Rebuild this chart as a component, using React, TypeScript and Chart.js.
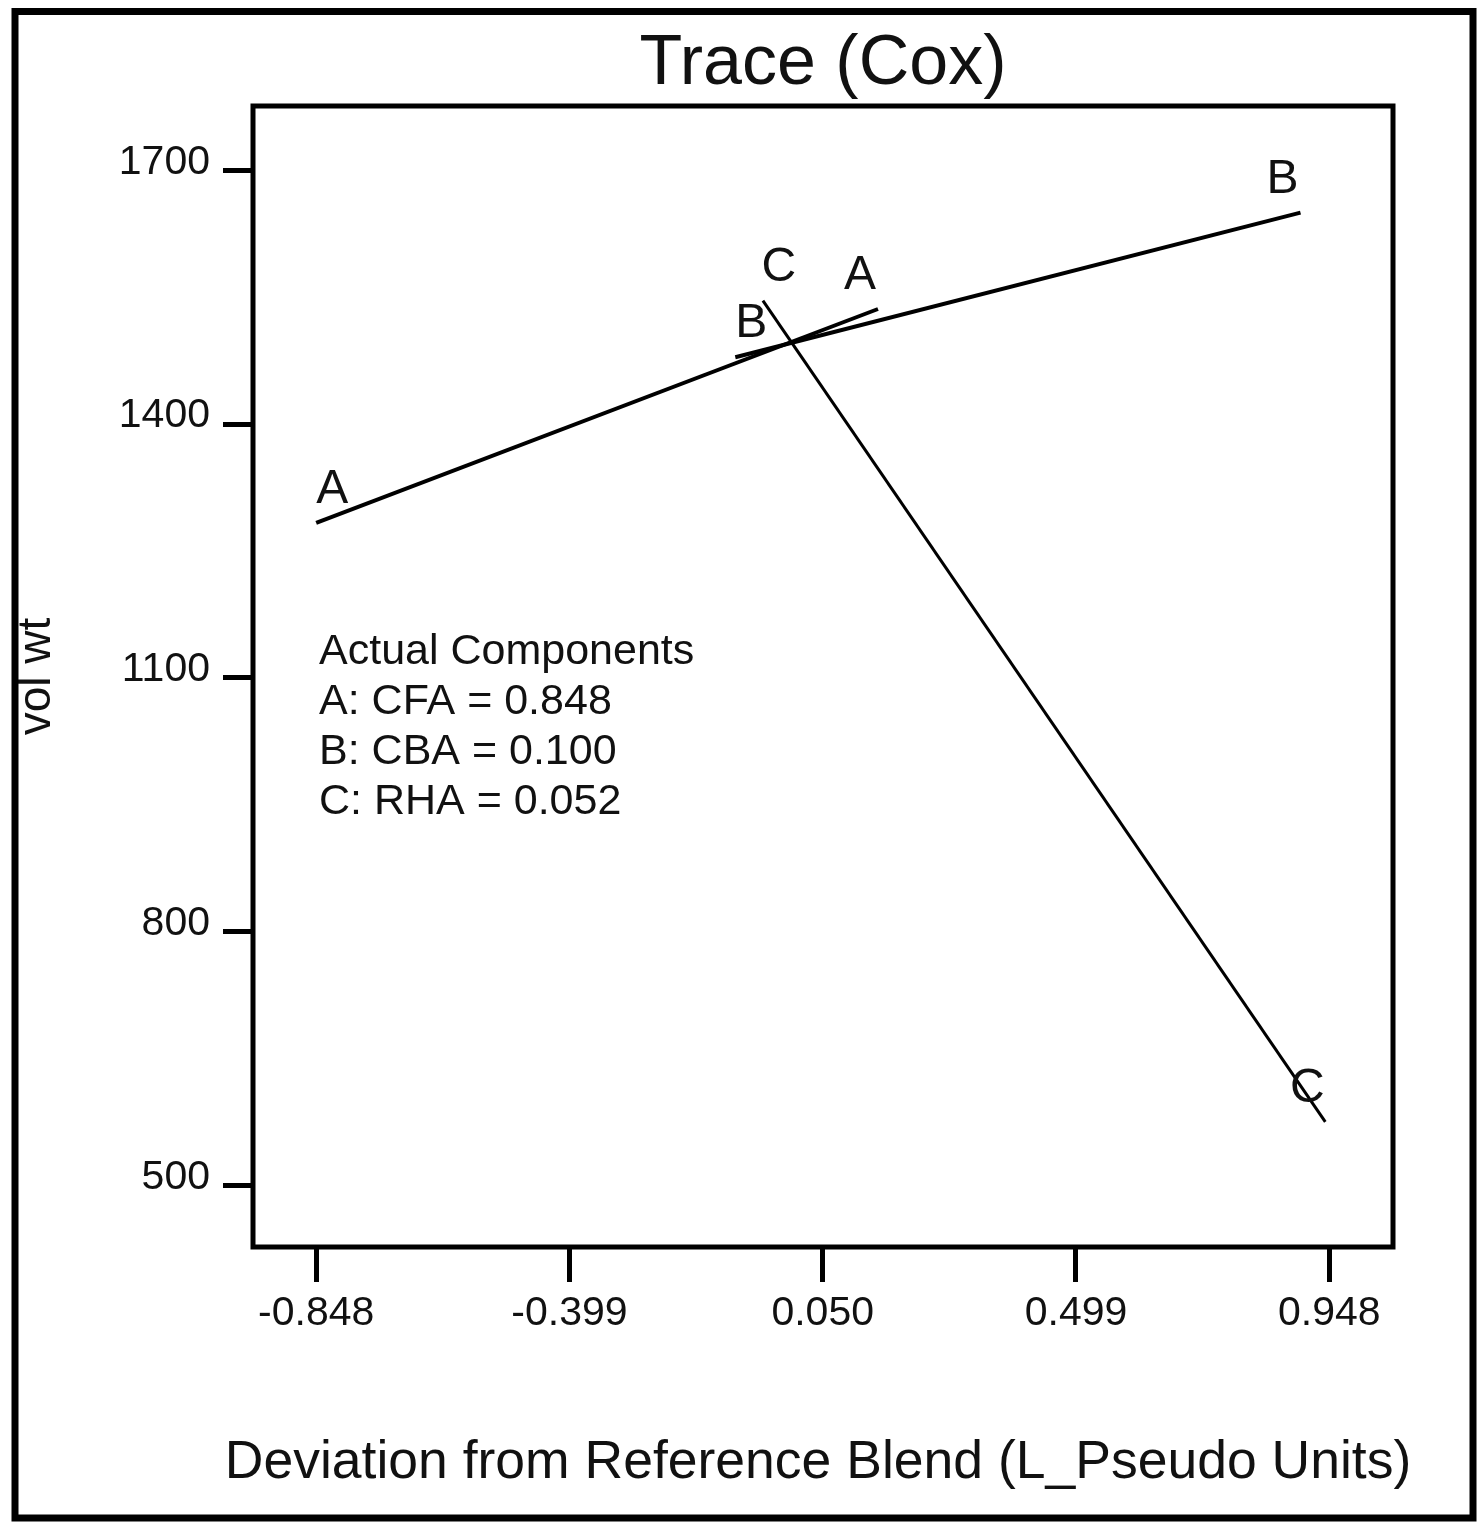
import React, { useEffect, useRef } from "react";
import { Chart, registerables } from "chart.js";

Chart.register(...registerables);

const TITLE = "Trace (Cox)";
const X_TITLE = "Deviation from Reference Blend (L_Pseudo Units)";
const Y_TITLE = "vol wt";
const X_TICKS = [-0.848, -0.399, 0.05, 0.499, 0.948];
const Y_TICKS = [500, 800, 1100, 1400, 1700];
const X_RANGE = [-0.96, 1.061];
const Y_RANGE = [427, 1776];
const SERIES_NAMES = ["A", "B", "C"];
const A_X = [-0.848, 0.148];
const A_Y = [1283, 1536];
const B_X = [-0.105, 0.897];
const B_Y = [1479, 1650];
const C_X = [-0.056, 0.941];
const C_Y = [1546, 575];
const LEGEND_TITLE = "Actual Components";
const COMPONENTS = ["A: CFA = 0.848", "B: CBA = 0.100", "C: RHA = 0.052"];

const FONT = '"Liberation Sans", Arial, Helvetica, sans-serif';

const toPoints = (xs: number[], ys: number[]) => xs.map((x, i) => ({ x, y: ys[i] }));

const framePlugin = {
  id: "frameAndText",
  beforeDraw(chart: any) {
    const { ctx, width, height } = chart;
    ctx.save();
    ctx.fillStyle = "#ffffff";
    ctx.fillRect(0, 0, width, height);
    ctx.restore();
  },
  afterDatasetsDraw(chart: any) {
    const { ctx, chartArea } = chart;
    const xs = chart.scales.x;
    const ys = chart.scales.y;
    ctx.save();
    ctx.font = `48px ${FONT}`;
    ctx.fillStyle = "#111";
    ctx.textAlign = "center";
    ctx.textBaseline = "middle";
    chart.data.datasets.forEach((ds: any) => {
      const pts = ds.data;
      const first = pts[0];
      const last = pts[pts.length - 1];
      ctx.fillText(ds.label, xs.getPixelForValue(first.x) + 16, ys.getPixelForValue(first.y) - 33);
      ctx.fillText(ds.label, xs.getPixelForValue(last.x) - 18, ys.getPixelForValue(last.y) - 33);
    });
    ctx.font = `43px ${FONT}`;
    ctx.textAlign = "left";
    const lines = [LEGEND_TITLE, ...COMPONENTS];
    lines.forEach((t, i) => {
      ctx.fillText(t, chartArea.left + 66, chartArea.top + 546 + i * 50);
    });
    ctx.restore();
  },
  afterDraw(chart: any) {
    const { ctx, chartArea } = chart;
    ctx.save();
    // x-axis title (drawn here so it may be wider than the plot box, as in the reference)
    ctx.font = `53.5px ${FONT}`;
    ctx.fillStyle = "#111";
    ctx.textAlign = "center";
    ctx.textBaseline = "middle";
    ctx.fillText(X_TITLE, (chartArea.left + chartArea.right) / 2 - 5, chartArea.bottom + 216);
    ctx.strokeStyle = "#000";
    ctx.lineWidth = 5;
    ctx.strokeRect(chartArea.left, chartArea.top, chartArea.right - chartArea.left, chartArea.bottom - chartArea.top);
    ctx.lineWidth = 7;
    ctx.strokeRect(15, 11.5, 1473 - 15, 1518 - 11.5);
    ctx.restore();
  },
};

export default function App() {
  const ref = useRef<HTMLCanvasElement | null>(null);

  useEffect(() => {
    if (!ref.current) return;
    const datasets = [
      { label: SERIES_NAMES[0], data: toPoints(A_X, A_Y), borderWidth: 4 },
      { label: SERIES_NAMES[1], data: toPoints(B_X, B_Y), borderWidth: 4 },
      { label: SERIES_NAMES[2], data: toPoints(C_X, C_Y), borderWidth: 3 },
    ].map((d) => ({
      ...d,
      borderColor: "#000",
      backgroundColor: "#000",
      pointRadius: 0,
      showLine: true,
      fill: false,
      tension: 0,
    }));

    const chart = new Chart(ref.current, {
      type: "line",
      data: { datasets },
      plugins: [framePlugin],
      options: {
        animation: false,
        responsive: false,
        devicePixelRatio: 1,
        layout: { padding: { left: 0, right: 91, top: 10, bottom: 0 } },
        plugins: {
          legend: { display: false },
          tooltip: { enabled: false },
          title: {
            display: true,
            text: TITLE,
            fullSize: false,
            color: "#111",
            font: { size: 70, family: FONT, weight: "normal" },
            padding: { top: 13, bottom: -1 },
          },
        },
        scales: {
          x: {
            type: "linear",
            min: X_RANGE[0],
            max: X_RANGE[1],
            afterBuildTicks: (s: any) => {
              s.ticks = X_TICKS.map((v) => ({ value: v }));
            },
            afterFit: (s: any) => {
              s.height = 289;
            },
            ticks: {
              color: "#111",
              font: { size: 41, family: FONT },
              padding: 7,
              maxRotation: 0,
              autoSkip: false,
              callback: (v: any) => Number(v).toFixed(3),
            },
            grid: {
              drawOnChartArea: false,
              drawTicks: true,
              tickLength: 35,
              tickWidth: 5,
              lineWidth: 5,
              color: "#000",
              tickColor: "#000",
            },
            border: { display: false },
            title: { display: false, text: X_TITLE },
          },
          y: {
            type: "linear",
            min: Y_RANGE[0],
            max: Y_RANGE[1],
            afterBuildTicks: (s: any) => {
              s.ticks = Y_TICKS.map((v) => ({ value: v }));
            },
            afterFit: (s: any) => {
              s.width = 253;
            },
            ticks: {
              color: "#111",
              font: { size: 41, family: FONT },
              padding: 13,
              labelOffset: -8,
              autoSkip: false,
              callback: (v: any) => String(Math.round(Number(v))),
            },
            grid: {
              drawOnChartArea: false,
              drawTicks: true,
              tickLength: 30,
              tickWidth: 5,
              lineWidth: 5,
              color: "#000",
              tickColor: "#000",
            },
            border: { display: false },
            title: {
              display: true,
              text: Y_TITLE,
              color: "#111",
              font: { size: 46, family: FONT },
              padding: { top: 10, bottom: 0 },
            },
          },
        },
      },
    } as any);
    return () => chart.destroy();
  }, []);

  return (
    <div style={{ position: "absolute", left: 0, top: 0, width: 1484, height: 1536, background: "#fff" }}>
      <canvas ref={ref} width={1484} height={1536} style={{ display: "block" }} />
    </div>
  );
}
